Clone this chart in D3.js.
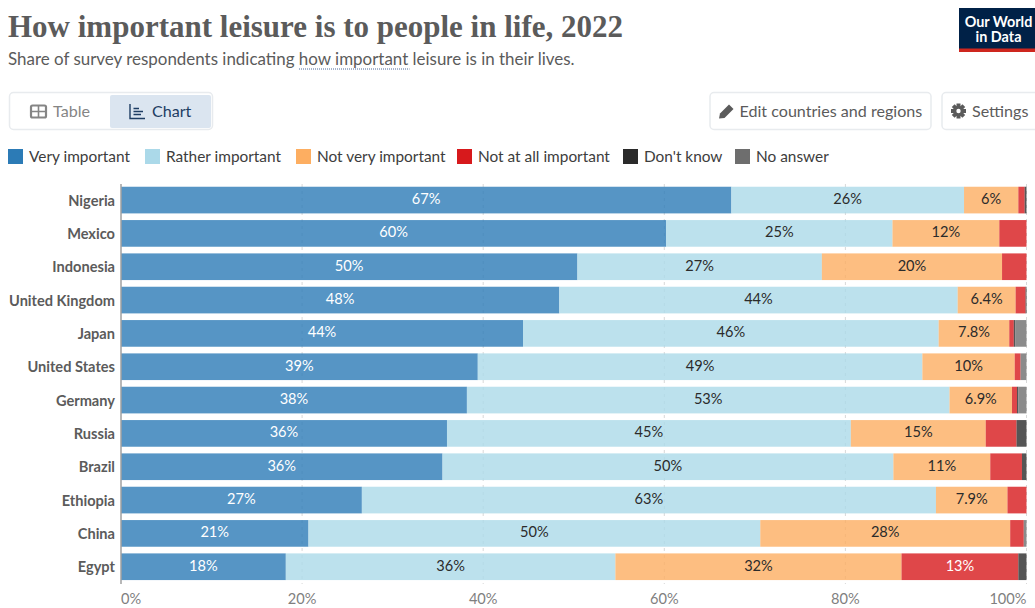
<!DOCTYPE html>
<html lang="en">
<head>
<meta charset="utf-8">
<title>How important leisure is to people in life, 2022</title>
<script src="https://cdn.jsdelivr.net/npm/d3@7"></script>
<style>
  html, body { margin: 0; padding: 0; background: #fff; overflow: hidden; }
  svg { display: block; font-family: Lato, "Open Sans", sans-serif; }
</style>
</head>
<body>
<svg id="chart" width="1035" height="608"></svg>
<script>
// Survey responses, in percent of respondents
const countries = ["Nigeria", "Mexico", "Indonesia", "United Kingdom", "Japan", "United States",
  "Germany", "Russia", "Brazil", "Ethiopia", "China", "Egypt"];
const answers = ["Very important", "Rather important", "Not very important",
  "Not at all important", "Don't know", "No answer"];
const veryImportant   = [67.4, 60.2, 50.4, 48.4, 44.4, 39.4, 38.2, 36.0, 35.5, 26.6, 20.7, 18.2];
const ratherImportant = [25.7, 25.0, 27.0, 44.0, 45.9, 49.1, 53.3, 44.6, 49.8, 63.4, 49.9, 36.4];
const notVery         = [6.0, 11.8, 19.9, 6.4, 7.8, 10.2, 6.9, 14.9, 10.7, 7.9, 27.6, 31.6];
const notAtAll        = [0.7, 3.0, 2.7, 1.1, 0.5, 0.65, 0.55, 3.4, 3.5, 2.1, 1.5, 12.9];
const dontKnow        = [0.2, 0, 0, 0.1, 0.15, 0, 0.15, 1.1, 0.5, 0, 0, 0.9];
const noAnswer        = [0, 0, 0, 0, 1.25, 0.65, 0.9, 0, 0, 0, 0.3, 0];
const axisTicks = [0, 20, 40, 60, 80, 100];

const seriesValues = [veryImportant, ratherImportant, notVery, notAtAll, dontKnow, noAnswer];
const palette = ["#2c7bb6", "#abd9e9", "#fdae61", "#d7191c", "#2a2a2a", "#6e6e6e"];
const labelInk = ["#fff", "#2b2b2b", "#2b2b2b", "#fff", "#fff", "#fff"];

const svg = d3.select("#chart");
const grey = "#5b5b5b";

// Header
svg.append("text").attr("x", 8).attr("y", 37)
  .attr("font-family", "'Liberation Serif', 'DejaVu Serif', serif")
  .attr("font-weight", 700).attr("font-size", 32).attr("fill", grey)
  .attr("textLength", 615).attr("lengthAdjust", "spacingAndGlyphs")
  .text("How important leisure is to people in life, 2022");

const sub = svg.append("text").attr("x", 8).attr("y", 65)
  .attr("font-size", 16.95).attr("fill", grey);
sub.append("tspan").text("Share of survey respondents indicating ");
sub.append("tspan").text("how important");
sub.append("tspan").text(" leisure is in their lives.");
svg.append("line").attr("x1", 299).attr("x2", 409.5).attr("y1", 69).attr("y2", 69)
  .attr("stroke", "#4c6a9c").attr("stroke-width", 1).attr("stroke-dasharray", "1 1");

// Logo
const logo = svg.append("g");
logo.append("rect").attr("x", 959).attr("y", 8).attr("width", 76).attr("height", 44).attr("fill", "#002147");
logo.append("rect").attr("x", 959).attr("y", 48.5).attr("width", 76).attr("height", 3.5).attr("fill", "#ce261e");
logo.selectAll("text").data([["Our World", 26.5], ["in Data", 41.5]]).join("text")
  .attr("x", 998.5).attr("y", d => d[1]).attr("text-anchor", "middle")
  .attr("font-size", 14.4).attr("font-weight", 700).attr("fill", "#fff").text(d => d[0]);

// Tab switcher and toolbar buttons
function panel(x, y, w, h, fill, stroke) {
  svg.append("rect").attr("x", x).attr("y", y).attr("width", w).attr("height", h).attr("rx", 4)
    .attr("fill", fill).attr("stroke", stroke).attr("stroke-width", 1.5);
}
panel(9.5, 92.5, 203, 37, "#fff", "#e8ebee");
svg.append("rect").attr("x", 110).attr("y", 95).attr("width", 101).attr("height", 33).attr("rx", 2).attr("fill", "#dbe5f0");
panel(710, 92.5, 221, 37, "#fff", "#e8ebee");
panel(942, 92.5, 100, 37, "#fff", "#e8ebee");

const toolbarText = [
  ["Table", 53, "#858585"], ["Chart", 152, "#1d3d63"],
  ["Edit countries and regions", 739.5, "#5b5b5b"], ["Settings", 972, "#5b5b5b"]
];
svg.selectAll("text.toolbar").data(toolbarText).join("text").attr("class", "toolbar")
  .attr("x", d => d[1]).attr("y", 117).attr("font-size", 16.1).attr("fill", d => d[2]).text(d => d[0]);

// Table icon
svg.append("rect").attr("x", 31).attr("y", 105.5).attr("width", 15).attr("height", 12).attr("rx", 1.5)
  .attr("fill", "#fff").attr("stroke", "#858585").attr("stroke-width", 2.2);
svg.append("path").attr("d", "M31 111.5H46M38.5 106V117").attr("stroke", "#858585").attr("stroke-width", 1.6);
// Chart icon
svg.append("path").attr("d", "M130 104V118.5H145M133.5 108.5H139M133.5 111.5H143M133.5 114.5H141")
  .attr("fill", "none").attr("stroke", "#1d3d63").attr("stroke-width", 1.4);
// Pencil icon
svg.append("path").attr("d", "M719 118.5L720 113.5L729 104.5L733.5 109L724.5 118Z").attr("fill", "#5b5b5b");
// Gear icon
const gear = svg.append("g").attr("transform", "translate(958.5,111)");
gear.selectAll("rect").data(d3.range(0, 180, 45)).join("rect")
  .attr("x", -2).attr("y", -7.5).attr("width", 4).attr("height", 15).attr("fill", "#5b5b5b")
  .attr("transform", d => `rotate(${d})`);
gear.append("circle").attr("r", 5.2).attr("fill", "#5b5b5b");
gear.append("circle").attr("r", 2.2).attr("fill", "#fff");

// Legend
const legendX = [8, 145, 296, 457, 623, 735];
const legend = svg.selectAll("g.legend").data(answers).join("g").attr("class", "legend")
  .attr("transform", (d, i) => `translate(${legendX[i]},149)`);
legend.append("rect").attr("width", 15).attr("height", 15).attr("fill", (d, i) => palette[i]);
legend.append("text").attr("x", 21).attr("y", 12.5).attr("font-size", 15.4).attr("fill", "#3d3d3d").text(d => d);

// Scales
const x = d3.scaleLinear().domain([0, 100]).range([121, 1026.5]);
const y = d3.scaleBand().domain(countries).range([183.4, 583.4]).paddingInner(0.2).paddingOuter(0.1);

// Vertical grid lines sit behind the translucent bars
svg.append("g").selectAll("line").data(axisTicks.slice(1)).join("line")
  .attr("x1", d => x(d)).attr("x2", d => x(d)).attr("y1", 184).attr("y2", 584)
  .attr("stroke", "#d8d8d8").attr("stroke-dasharray", "3 4");

// Stacked segments
const rows = countries.map((country, r) => {
  const row = { country };
  answers.forEach((a, s) => { row[a] = seriesValues[s][r]; });
  return row;
});
const stacked = d3.stack().keys(answers)(rows);

// Values keep two significant figures, trailing zeros dropped
const fmt = v => `${+v.toPrecision(2)}%`;

const layers = svg.append("g").selectAll("g").data(stacked).join("g")
  .attr("fill", (d, i) => palette[i]).attr("fill-opacity", 0.8);
layers.selectAll("rect").data(d => d).join("rect")
  .attr("x", d => x(d[0])).attr("y", d => y(d.data.country))
  .attr("width", d => x(d[1]) - x(d[0])).attr("height", y.bandwidth());

const valueLayers = svg.append("g").selectAll("g").data(stacked).join("g")
  .attr("fill", (d, i) => labelInk[i]);
valueLayers.selectAll("text").data(d => d.filter(p => p[1] - p[0] >= 5)).join("text")
  .attr("x", d => x((d[0] + d[1]) / 2)).attr("y", d => y(d.data.country) + y.bandwidth() / 2 + 4)
  .attr("text-anchor", "middle").attr("font-size", 14.6)
  .text(d => fmt(d[1] - d[0]));

// Category axis
const yAxis = svg.append("g").attr("transform", "translate(120.5,0)")
  .call(d3.axisLeft(y).tickSize(0).tickPadding(5.5));
yAxis.select(".domain").attr("stroke", "#a0a0a0").attr("stroke-width", 1.5);
yAxis.selectAll("text").attr("font-family", "Lato, sans-serif").attr("font-size", 14.6)
  .attr("font-weight", 700).attr("fill", "#5b5b5b").attr("transform", "translate(0,0.8)");

// Percentage axis
svg.append("g").selectAll("text").data(axisTicks).join("text")
  .attr("x", d => x(d)).attr("y", 604)
  .attr("text-anchor", d => d === 0 ? "start" : d === 100 ? "end" : "middle")
  .attr("font-size", 14.6).attr("fill", "#7f7f7f").text(d => `${d}%`);
</script>
</body>
</html>
